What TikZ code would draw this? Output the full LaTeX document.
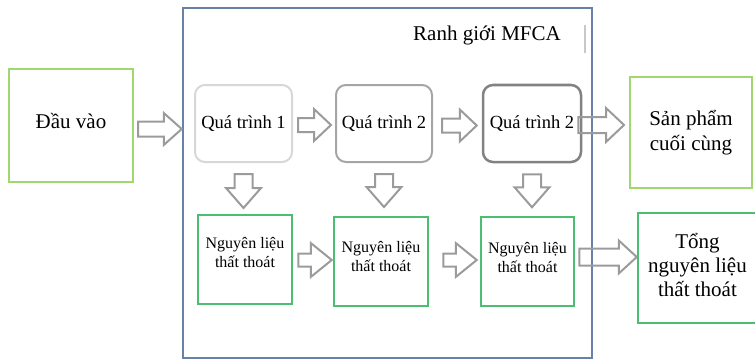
\documentclass[tikz,border=0pt]{standalone}
\usepackage{fontspec}
\setmainfont{Liberation Serif}
\usetikzlibrary{calc}
\definecolor{lgreen}{RGB}{160,215,110}
\definecolor{mgreen}{RGB}{75,190,115}
\definecolor{bblue}{RGB}{105,128,168}
\definecolor{agray}{RGB}{155,155,155}
\definecolor{pgA}{RGB}{215,215,215}
\definecolor{pgB}{RGB}{165,165,165}
\definecolor{pgC}{RGB}{130,130,130}
\tikzset{
  inbox/.style={draw=lgreen, line width=2pt, inner sep=0pt},
  lossbox/.style={draw=mgreen, line width=2.5pt, inner sep=0pt},
  procbox/.style={rounded corners=10pt, line width=2pt, inner sep=0pt, minimum width=#1, minimum height=77pt},
  bigtxt/.style={font=\fontsize{21}{25}\selectfont, align=center},
  proctxt/.style={font=\fontsize{18.5}{22}\selectfont},
  smalltxt/.style={font=\fontsize{16}{19}\selectfont, align=center, inner sep=0pt},
  blockarr/.style={draw=agray, line width=2pt}
}
\newcommand\harr[5]{\draw[blockarr] let \p1=#1, \p2=#2 in
  (\x1,\y1+#3pt) -- (\x2-#5pt,\y1+#3pt) -- (\x2-#5pt,\y1+#4pt) -- (\x2,\y1)
  -- (\x2-#5pt,\y1-#4pt) -- (\x2-#5pt,\y1-#3pt) -- (\x1,\y1-#3pt) -- cycle;}
\newcommand\varr[5]{\draw[blockarr] let \p1=#1, \p2=#2 in
  (\x1-#3pt,\y1) -- (\x1-#3pt,\y2+#5pt) -- (\x1-#4pt,\y2+#5pt) -- (\x1,\y2)
  -- (\x1+#4pt,\y2+#5pt) -- (\x1+#3pt,\y2+#5pt) -- (\x1+#3pt,\y1) -- cycle;}
\begin{document}
\begin{tikzpicture}[x=1pt,y=-1pt]
\useasboundingbox (0,0) rectangle (755,361);
\clip (0,0) rectangle (755,361);
% boundary
\node[draw=bblue, line width=2.5pt, minimum width=409pt, minimum height=350pt, inner sep=0pt] (bound) at (387.5,183) {};
\node[bigtxt, inner sep=0pt] (ranh) at (487,35) {Ranh giới MFCA};
\draw[draw={rgb,255:red,200;green,200;blue,200}, line width=1.5pt] (585,25) -- (585,53);
% input / output boxes
\node[inbox, minimum width=124pt, minimum height=113pt] (dauvao) at (71,125.5) {};
\node[bigtxt, inner sep=0pt] (dauvaot) at ($(dauvao)+(0,-5)$) {Đầu vào};
\node[inbox, minimum width=122pt, minimum height=111pt, bigtxt] (sp) at (691,132.5) {Sản phẩm\\cuối cùng};
\node[lossbox, minimum width=119pt, minimum height=110pt] (tong) at (697.5,268) {};
\node[font=\fontsize{21}{24}\selectfont, align=center, inner sep=0pt] (tongt) at ($(tong)+(0,-3)$) {Tổng\\nguyên liệu\\thất thoát};
% process boxes
\node[procbox=97pt, draw=pgA, proctxt] (q1) at (243.5,123.5) {Quá trình 1};
\node[procbox=96pt, draw=pgB, proctxt] (q2) at (384,123.5) {Quá trình 2};
\node[procbox=98pt, draw=pgC, line width=2.5pt, proctxt] (q3) at (532,123.5) {Quá trình 2};
% loss boxes
\node[lossbox, minimum width=94pt, minimum height=89pt] (l1) at (245,259.5) {};
\node[lossbox, minimum width=94pt, minimum height=89pt] (l2) at (381,261.5) {};
\node[lossbox, minimum width=93pt, minimum height=89pt] (l3) at (527.5,261.5) {};
\node[smalltxt] (l1t) at ($(l1)+(0,-7)$) {Nguyên liệu\\thất thoát};
\node[smalltxt] (l2t) at ($(l2)+(0,-5)$) {Nguyên liệu\\thất thoát};
\node[smalltxt] (l3t) at ($(l3)+(0,-4)$) {Nguyên liệu\\thất thoát};
% horizontal block arrows
\harr{($(dauvao.east)+(4,3.5)$)}{(bound.west)}{7.5}{16}{18}
\harr{($(q1.east)+(5,1.5)$)}{($(q2.west)+(-4,0)$)}{7}{16}{17}
\harr{($(q2.east)+(9,2)$)}{($(q3.west)+(-5,0)$)}{7}{16}{17}
\harr{($(q3.east)+(-4,1.5)$)}{($(sp.west)+(-5,0)$)}{8}{17}{18}
\harr{($(l1.east)+(5,0.5)$)}{($(l2.west)+(-1,0)$)}{6.5}{17}{21}
\harr{($(l2.east)+(14,-1.5)$)}{($(l3.west)+(-3,0)$)}{6.5}{17}{21}
\harr{($(l3.east)+(4,-4.5)$)}{(tong.west)}{8.5}{16.5}{18}
% downward block arrows
\varr{($(q1.south)+(0,11)$)}{($(q1.south)+(0,45)$)}{9}{17.5}{20}
\varr{($(q2.south)+(0,11)$)}{($(q2.south)+(0,44)$)}{9}{17.5}{20}
\varr{($(q3.south)+(0,11)$)}{($(q3.south)+(0,44)$)}{9}{17.5}{20}
\end{tikzpicture}
\end{document}
